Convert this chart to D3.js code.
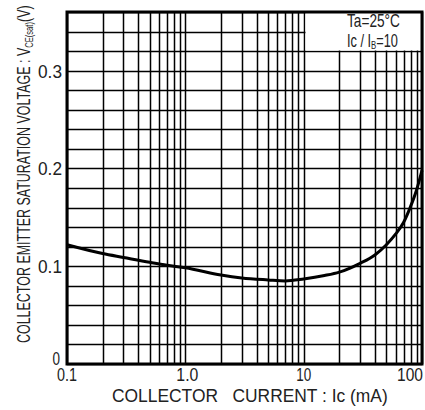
<!DOCTYPE html>
<html><head><meta charset="utf-8">
<script src="https://cdn.jsdelivr.net/npm/d3@7"></script>
<style>
body{margin:0;background:#fff}
svg{display:block}
text{font-family:"Liberation Sans",Arial,Helvetica,sans-serif;fill:#222}
</style>
</head><body>
<svg id="c" width="425" height="410"></svg>
<script>
// ---- data ----
const currentMA = [0.1, 0.2, 0.3, 0.5, 0.7, 1, 2, 3, 5, 7, 10, 15, 20, 30, 40, 50, 60, 70, 80, 90, 100];
const vceSat    = [0.122, 0.113, 0.109, 0.104, 0.101, 0.0985, 0.091, 0.088, 0.086, 0.085, 0.087, 0.0905, 0.094, 0.103, 0.1115, 0.122, 0.133, 0.145, 0.161, 0.178, 0.198];
const xTickValues = [0.1, 1, 10, 100];
const xTickLabels = ["0.1", "1.0", "10", "100"];
const yTickValues = [0, 0.1, 0.2, 0.3];
const yTickLabels = ["0", "0.1", "0.2", "0.3"];
const xGridValues = [0.1,0.2,0.3,0.4,0.5,0.6,0.7,0.8,0.9,1,2,3,4,5,6,7,8,9,10,20,30,40,50,60,70,80,90,100];
const yGridValues = [0,0.02,0.04,0.06,0.08,0.1,0.12,0.14,0.16,0.18,0.2,0.22,0.24,0.26,0.28,0.3,0.32,0.34,0.36];
const legendLine1 = "Ta=25°C";
const xTitle = "COLLECTOR\u00A0\u00A0\u00A0CURRENT : Ic (mA)";

// ---- layout ----
const L = 67, R = 422, T = 12, B = 364;
const svg = d3.select("#c");
const x = d3.scaleLog().domain([0.1, 100]).range([L, R]);
const y = d3.scaleLinear().domain([0, 0.36]).range([B, T]);
const px = v => Math.round(x(v)) + 0.5;
const py = v => Math.round(y(v)) + 0.5;

// grid
svg.append("g").selectAll("line").data(xGridValues).join("line")
  .attr("x1", px).attr("x2", px).attr("y1", T).attr("y2", B)
  .attr("stroke", "#000").attr("stroke-width", 1.5);
svg.append("g").selectAll("line").data(yGridValues).join("line")
  .attr("y1", py).attr("y2", py).attr("x1", L).attr("x2", R)
  .attr("stroke", "#000").attr("stroke-width", 1.5);

// legend blank area
svg.append("rect").attr("x", px(10) + 1).attr("y", T).attr("width", R - px(10) - 1).attr("height", py(0.32) - T - 1).attr("fill", "#fff");

// curve
const pts = currentMA.map((c, i) => [c, vceSat[i]]);
svg.append("path").datum(pts)
  .attr("fill", "none").attr("stroke", "#000").attr("stroke-width", 3)
  .attr("stroke-linejoin", "round")
  .attr("d", d3.line().x(d => x(d[0])).y(d => y(d[1])).curve(d3.curveMonotoneX));

// frame
svg.append("rect").attr("x", L).attr("y", T).attr("width", R - L).attr("height", B - T)
  .attr("fill", "none").attr("stroke", "#000").attr("stroke-width", 3);

// text helper: fit to a target width
function fitText(tx, ty, build, targetW, anchor, rot, size) {
  const g = svg.append("g");
  const t = g.append("text").attr("font-size", size || 18);
  build(t);
  const w = t.node().getBBox().width;
  const s = targetW / w;
  let dx = 0;
  if (anchor === "middle") dx = -w / 2;
  else if (anchor === "end") dx = -w;
  t.attr("x", dx);
  g.attr("transform", `translate(${tx},${ty}) rotate(${rot || 0}) scale(${s},1)`);
  return g;
}

// x tick labels
const xTickW = [20, 22, 15, 26];
const xTickAdj = [0, 2, 0, -12];
xTickValues.forEach((v, i) => {
  fitText(x(v) + xTickAdj[i], 381, t => t.text(xTickLabels[i]), xTickW[i], "middle");
});
// y tick labels
const yTickW = [7.5, 24, 24, 24];
const yTickAdj = [-6, 0, 0, 0];
yTickValues.forEach((v, i) => {
  fitText(62 - (i === 0 ? 2 : 0), y(v) + 7 + yTickAdj[i], t => t.text(yTickLabels[i]), yTickW[i], "end");
});

// axis titles
fitText(112, 402, t => t.text(xTitle), 276, "start");
fitText(30, 343, t => {
  t.append("tspan").text("COLLECTOR EMITTER SATURATION VOLTAGE : V");
  t.append("tspan").attr("font-size", 11).attr("dy", 3).text("CE(sat)");
  t.append("tspan").attr("dy", -3).text("(V)");
}, 338, "start", -90);

// legend
fitText(347, 27, t => t.text(legendLine1), 53, "start");
fitText(347, 46.5, t => {
  t.append("tspan").text("Ic / I");
  t.append("tspan").attr("font-size", 11).attr("dy", 2).text("B");
  t.append("tspan").attr("dy", -2).text("=10");
}, 51, "start");
</script>
</body></html>
